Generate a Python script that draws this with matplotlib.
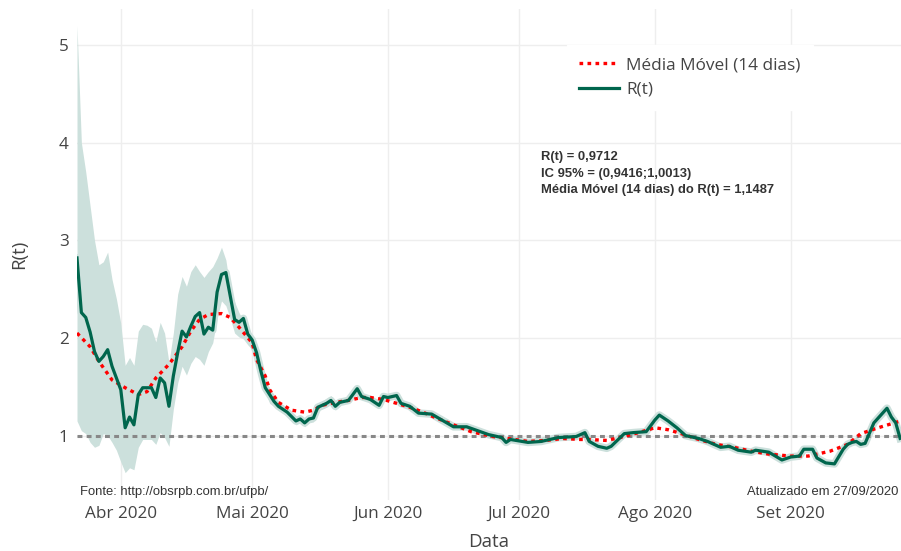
import matplotlib
matplotlib.use('Agg')

import numpy as np
import pandas as pd
import matplotlib.pyplot as plt

# first day of the series; all day lists below are offsets from it
START = pd.Timestamp('2020-03-22')

# R(t) estimates
r_days = [0, 1, 2, 3, 4, 5, 6, 7, 8, 9, 10, 11, 12, 13, 14, 15, 17, 18, 19, 20,
          21, 22, 23, 24, 25, 26, 27, 28, 29, 30, 31, 32, 33, 34, 35, 36, 37, 38, 39, 40,
          41, 42, 43, 45, 46, 48, 50, 51, 52, 53, 54, 55, 57, 58, 59, 60, 62, 64, 65, 67,
          69, 70, 71, 73, 74, 76, 78, 81, 86, 89, 94, 97, 98, 99, 103, 106, 110, 114, 116, 117,
          119, 121, 122, 125, 127, 130, 132, 133, 135, 137, 139, 142, 144, 146, 147, 149, 151, 154, 155, 158,
          161, 163, 165, 166, 168, 169, 171, 173, 175, 176, 177, 178, 179, 180, 182, 183, 185, 186, 187, 188]
r_vals = [2.82, 2.26, 2.21, 2.06, 1.86, 1.76, 1.81, 1.88, 1.71, 1.59, 1.47, 1.08, 1.19, 1.11, 1.42, 1.49, 1.49, 1.39, 1.59, 1.54,
          1.30, 1.61, 1.85, 2.07, 2.01, 2.12, 2.22, 2.26, 2.04, 2.11, 2.08, 2.47, 2.65, 2.67, 2.43, 2.19, 2.16, 2.20, 2.04, 1.98,
          1.85, 1.66, 1.49, 1.35, 1.30, 1.24, 1.15, 1.17, 1.13, 1.17, 1.18, 1.29, 1.33, 1.36, 1.30, 1.34, 1.36, 1.48, 1.40, 1.37,
          1.31, 1.40, 1.39, 1.41, 1.33, 1.30, 1.23, 1.22, 1.09, 1.09, 1.01, 0.98, 0.93, 0.96, 0.93, 0.94, 0.98, 0.99, 1.03, 0.94,
          0.89, 0.87, 0.89, 1.02, 1.03, 1.04, 1.16, 1.21, 1.15, 1.08, 1.00, 0.97, 0.94, 0.90, 0.88, 0.89, 0.85, 0.83, 0.85, 0.83,
          0.75, 0.78, 0.79, 0.86, 0.86, 0.77, 0.72, 0.71, 0.86, 0.91, 0.93, 0.94, 0.91, 0.92, 1.13, 1.18, 1.28, 1.19, 1.13, 0.9712]

# 14-day moving average of R(t)
ma_days = [0, 3, 5, 8, 11, 14, 16, 18, 21, 24, 26, 28, 30, 33, 35, 37, 40, 41, 43, 44,
           46, 49, 52, 54, 56, 59, 62, 65, 67, 70, 73, 76, 79, 81, 86, 90, 95, 100, 103, 107,
           111, 115, 117, 121, 125, 129, 132, 135, 138, 142, 146, 150, 154, 158, 163, 167, 172, 176, 179, 183, 188]
ma_vals = [2.05, 1.91, 1.76, 1.57, 1.49, 1.42, 1.45, 1.59, 1.73, 1.91, 2.07, 2.19, 2.24, 2.25, 2.21, 2.11, 1.95, 1.78, 1.61, 1.47,
           1.34, 1.26, 1.24, 1.26, 1.31, 1.34, 1.36, 1.39, 1.39, 1.37, 1.33, 1.29, 1.24, 1.20, 1.11, 1.04, 0.99, 0.96, 0.94, 0.95,
           0.97, 0.96, 0.96, 0.95, 0.99, 1.04, 1.08, 1.06, 1.02, 0.96, 0.91, 0.88, 0.84, 0.81, 0.79, 0.79, 0.84, 0.91, 1.02, 1.08, 1.1487]

# 95% confidence interval
band_days = list(range(0, 45)) + [45, 46, 48, 50, 51, 52, 53, 54, 55, 57, 58, 59, 60]
band_low = [1.15, 1.05, 1.02, 0.93, 0.88, 0.90, 1.02, 1.00, 0.93, 0.85, 0.73, 0.62, 0.67, 0.65, 0.88, 0.96, 0.96, 0.96, 0.91, 1.03,
            0.98, 0.89, 1.27, 1.54, 1.71, 1.62, 1.74, 1.81, 1.78, 1.72, 1.86, 1.95, 2.20, 2.38, 2.33, 2.20, 2.05, 2.01, 1.99, 1.93,
            1.88, 1.78, 1.60, 1.45, 1.33,
            1.30, 1.26, 1.20, 1.11, 1.13, 1.09, 1.13, 1.14, 1.25, 1.29, 1.32, 1.26, 1.30]
band_high = [5.20, 4.00, 3.70, 3.35, 3.00, 2.75, 2.78, 2.88, 2.60, 2.40, 2.15, 1.72, 1.80, 1.72, 2.07, 2.14, 2.13, 2.10, 1.96, 2.16,
             2.05, 1.75, 2.05, 2.45, 2.63, 2.53, 2.68, 2.75, 2.68, 2.62, 2.68, 2.73, 2.82, 2.93, 2.80, 2.50, 2.37, 2.26, 2.18, 2.08,
             1.99, 1.88, 1.70, 1.53, 1.40,
             1.40, 1.35, 1.28, 1.19, 1.21, 1.17, 1.21, 1.22, 1.33, 1.38, 1.41, 1.35, 1.38]

month_ticks = ['2020-04-01', '2020-05-01', '2020-06-01', '2020-07-01', '2020-08-01', '2020-09-01']
month_labels = ['Abr 2020', 'Mai 2020', 'Jun 2020', 'Jul 2020', 'Ago 2020', 'Set 2020']
y_ticks = [1, 2, 3, 4, 5]

def toDates(days):
    return START + pd.to_timedelta(days, unit='D')

GREEN = '#00664d'
BAND = '#cce0dc'
TEXT = '#444444'

plt.rcParams['font.family'] = ['Open Sans', 'DejaVu Sans']

fig = plt.figure(figsize=(9.01, 5.51), dpi=100)
ax = fig.add_axes([77 / 901, 1 - 500 / 551, 1 - 77 / 901, 491 / 551])

ax.fill_between(toDates(band_days), band_low, band_high, color=BAND, linewidth=0, zorder=1)
ax.plot(toDates(r_days), r_vals, color=BAND, linewidth=5.5, solid_joinstyle='round', zorder=2)
ax.axhline(1, color='#888888', linewidth=2.2, linestyle=(0, (1.6, 1.4)), zorder=3)
ax.plot(toDates(ma_days), ma_vals, color='red', linewidth=2.4, linestyle=(0, (1.1, 1.3)),
        label='Média Móvel (14 dias)', zorder=4)
ax.plot(toDates(r_days), r_vals, color=GREEN, linewidth=2.3, label='R(t)', zorder=5)

ax.set_xlim(toDates([0])[0], toDates([188.2])[0])
ax.set_ylim(0.34, 5.37)

ax.set_xticks(pd.to_datetime(month_ticks))
ax.set_xticklabels(month_labels)
ax.set_yticks(y_ticks)
ax.tick_params(length=0, labelsize=12.3, colors=TEXT)
ax.tick_params(axis='x', pad=4)
ax.tick_params(axis='y', pad=6)
ax.grid(True, color='#eeeeee', linewidth=1)
ax.set_axisbelow(True)
for s in ax.spines.values():
    s.set_visible(False)

ax.set_xlabel('Data', fontsize=13.5, color=TEXT, labelpad=8.5)
ax.set_ylabel('R(t)', fontsize=13.5, color=TEXT, labelpad=22)

leg = ax.legend(loc='upper left', bbox_to_anchor=(567 / 901, 1 - 45 / 551), bbox_transform=fig.transFigure,
                frameon=True, fancybox=False, edgecolor='white', framealpha=1, fontsize=12.4,
                handlelength=2.3, labelspacing=0.48, borderpad=0.72, handletextpad=0.4, borderaxespad=0)
for t in leg.get_texts():
    t.set_color(TEXT)

fig.text(541 / 901, 1 - 151 / 551,
         'R(t) = 0,9712\nIC 95% = (0,9416;1,0013)\nMédia Móvel (14 dias) do R(t) = 1,1487',
         family='Liberation Sans', fontweight='bold', fontsize=9.4, color='#333333',
         va='top', ha='left', linespacing=1.5)
fig.text(80 / 901, 1 - 492 / 551, 'Fonte: http://obsrpb.com.br/ufpb/',
         family='Liberation Sans', fontsize=9.4, color='#333333', va='center', ha='left')
fig.text(898 / 901, 1 - 492 / 551, 'Atualizado em 27/09/2020',
         family='Liberation Sans', fontsize=9.4, color='#333333', va='center', ha='right')

fig.savefig('out.png', dpi=100, facecolor='white')
plt.close(fig)
